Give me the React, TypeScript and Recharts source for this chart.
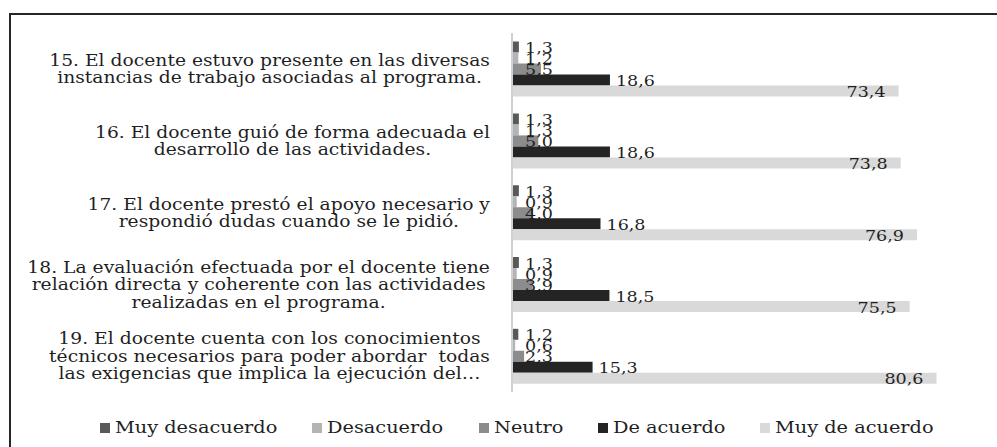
import React from "react";
import { BarChart, Bar, XAxis, YAxis, Legend, LabelList } from "recharts";

const categories = ["15", "16", "17", "18", "19"];
const categoryLines = [
  ["15. El docente estuvo presente en las diversas", "instancias de trabajo asociadas al programa."],
  ["16. El docente guió de forma adecuada el", "desarrollo de las actividades."],
  ["17. El docente prestó el apoyo necesario y", "respondió dudas cuando se le pidió."],
  [
    "18. La evaluación efectuada por el docente tiene",
    "relación directa y coherente con las actividades",
    "realizadas en el programa.",
  ],
  [
    "19. El docente cuenta con los conocimientos",
    "técnicos necesarios para poder abordar  todas",
    "las exigencias que implica la ejecución del…",
  ],
];

const muyDesacuerdo = [1.3, 1.3, 1.3, 1.3, 1.2];
const desacuerdo = [1.2, 1.3, 0.9, 0.9, 0.6];
const neutro = [5.5, 5.0, 4.0, 3.9, 2.3];
const deAcuerdo = [18.6, 18.6, 16.8, 18.5, 15.3];
const muyDeAcuerdo = [73.4, 73.8, 76.9, 75.5, 80.6];

const seriesNames = ["Muy desacuerdo", "Desacuerdo", "Neutro", "De acuerdo", "Muy de acuerdo"];
const seriesColors = ["#595959", "#b4b4b4", "#8c8c8c", "#242424", "#d9d9d9"];

const data = categories.map((name, i) => ({
  name,
  s0: muyDesacuerdo[i],
  s1: desacuerdo[i],
  s2: neutro[i],
  s3: deAcuerdo[i],
  s4: muyDeAcuerdo[i],
}));

const FONT = "'DejaVu Serif', serif";
const SX = 1.17; // source picture is stretched sideways
const TEXT = "#1f1f1f";

let ctx: CanvasRenderingContext2D | null = null;
function textWidth(s: string, size: number) {
  if (!ctx) ctx = document.createElement("canvas").getContext("2d");
  ctx!.font = `${size}px ${FONT}`;
  return ctx!.measureText(s).width;
}

const fmt = (v: number) => v.toFixed(1).replace(".", ",");

function CategoryTick(props: any) {
  const { x, y, payload } = props;
  const lines = categoryLines[categories.indexOf(payload.value)] || [];
  const w = Math.max(...lines.map((l) => textWidth(l, 16))) * SX;
  const lh = 17.5;
  return (
    <g transform={`translate(${x - w / 2},${y}) scale(${SX},1)`}>
      <text textAnchor="middle" fontFamily={FONT} fontSize={16} fill={TEXT} style={{ whiteSpace: "pre" }}>
        {lines.map((l, i) => (
          <tspan key={i} x={0} y={(i - (lines.length - 1) / 2) * lh} dy="0.36em">
            {l}
          </tspan>
        ))}
      </text>
    </g>
  );
}

function makeLabel(mode: "start" | "end" | "inside", offset: number) {
  return (p: any) => {
    const { x, y, width, height, value } = p;
    const cy = y + height / 2 + 1;
    let tx = x + width + offset;
    let anchor = "start";
    if (mode === "start") tx = x + offset;
    if (mode === "inside") {
      tx = x + width - offset;
      anchor = "end";
    }
    return (
      <g transform={`translate(${tx},${cy}) scale(${SX},1)`}>
        <text textAnchor={anchor} dominantBaseline="central" fontFamily={FONT} fontSize={15} fill={TEXT}>
          {fmt(value)}
        </text>
      </g>
    );
  };
}

function LegendContent() {
  return (
    <div style={{ display: "flex", justifyContent: "center", gap: 35 }}>
      {seriesNames.map((n, i) => (
        <div key={n} style={{ display: "flex", alignItems: "center" }}>
          <span
            style={{ display: "inline-block", width: 10, height: 10, background: seriesColors[i], marginRight: 5 }}
          />
          <span
            style={{
              display: "inline-block",
              width: textWidth(n, 16.5) * SX,
              fontFamily: FONT,
              fontSize: 16.5,
              lineHeight: "20px",
              color: TEXT,
              whiteSpace: "nowrap",
            }}
          >
            <span style={{ display: "inline-block", transform: `scaleX(${SX})`, transformOrigin: "left" }}>{n}</span>
          </span>
        </div>
      ))}
    </div>
  );
}

export default function App() {
  return (
    <div
      style={{
        position: "absolute",
        left: 0,
        top: 0,
        width: 997,
        height: 447,
        overflow: "hidden",
        background: "#fff",
      }}
    >
      <div
        style={{
          position: "absolute",
          left: 9,
          top: 13,
          width: 1050,
          height: 500,
          border: "2px solid #262626",
        }}
      />
      <div style={{ position: "absolute", left: 0, top: 0 }}>
        <BarChart
          width={997}
          height={447}
          data={data}
          layout="vertical"
          margin={{ top: 33, right: 11, bottom: 55, left: 0 }}
          barCategoryGap="12%"
          barGap={0}
        >
          <XAxis type="number" domain={[0, 90]} hide />
          <YAxis
            type="category"
            dataKey="name"
            width={512}
            axisLine={{ stroke: "#d0d0d0", strokeWidth: 2 }}
            tickLine={false}
            tickSize={0}
            tickMargin={22}
            interval={0}
            tick={<CategoryTick />}
          />
          <Legend
            layout="horizontal"
            verticalAlign="middle"
            align="center"
            wrapperStyle={{ top: 418, left: 0, width: 1034 }}
            content={<LegendContent />}
          />
          {seriesNames.map((n, i) => (
            <Bar key={n} dataKey={`s${i}`} name={n} fill={seriesColors[i]} isAnimationActive={false}>
              <LabelList
                dataKey={`s${i}`}
                content={i < 3 ? makeLabel("start", 13) : i === 3 ? makeLabel("end", 6) : makeLabel("inside", 13)}
              />
            </Bar>
          ))}
        </BarChart>
      </div>
    </div>
  );
}
